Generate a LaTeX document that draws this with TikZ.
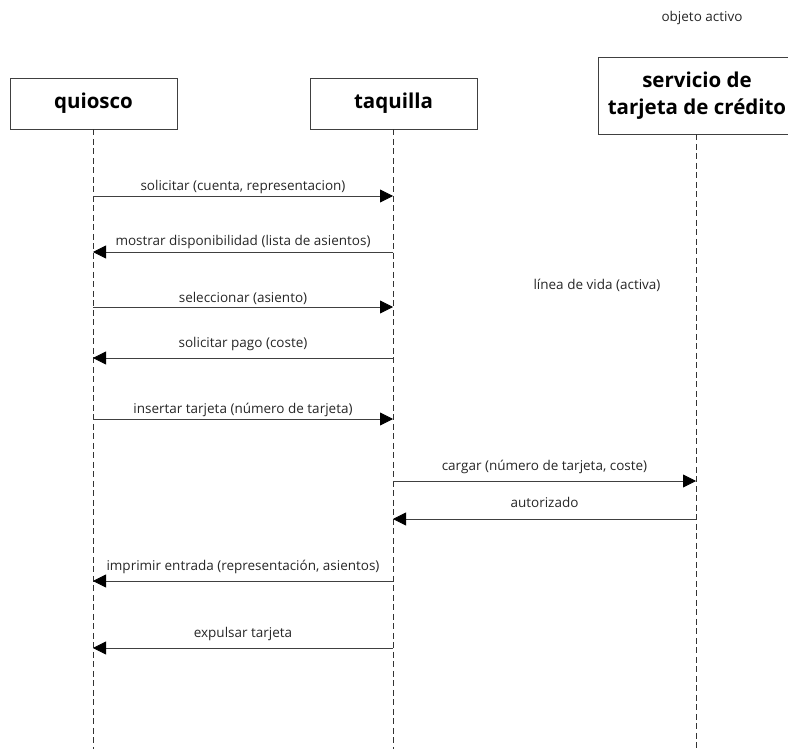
\documentclass[tikz,border=0pt]{standalone}
\usepackage{fontspec}
\setmainfont{Open Sans}
\usetikzlibrary{arrows.meta}
\begin{document}
\begin{tikzpicture}[x=1pt,y=-1pt,
  objbox/.style={draw=black!75,line width=0.8pt,fill=white,inner sep=0pt,font=\bfseries\fontsize{20.5}{27}\selectfont,align=center},
  lifeline/.style={draw=black!80,line width=0.7pt,dash pattern=on 6pt off 3.5pt},
  msg/.style={draw=black!75,line width=0.8pt,-{Triangle[length=13pt,width=13pt,color=black]}},
  lbl/.style={font=\fontsize{13.5}{16}\selectfont,text=black!85,inner sep=0pt,anchor=base}]
\useasboundingbox (0,0) rectangle (788,749);
% objects
\node[objbox,minimum width=167pt,minimum height=51pt] (q) at (93.5,103.5) {quiosco};
\node[objbox,minimum width=167pt,minimum height=51pt] (t) at (393.5,103.5) {taquilla};
\node[objbox,minimum width=198pt,minimum height=77pt] (s) at (697,95.5) {servicio de\\tarjeta de crédito};
\node[lbl] (oa) at (702,22) {objeto activo};
\node[lbl] (lv) at (597,289) {línea de vida (activa)};
% lifelines
\coordinate (qe) at (93,749);
\coordinate (te) at (393,749);
\coordinate (se) at (696,749);
\draw[lifeline] (q.south -| qe) -- (qe);
\draw[lifeline] (t.south -| te) -- (te);
\draw[lifeline] (s.south -| se) -- (se);
% message anchor points
\foreach \n/\y in {1/196,2/252,3/307,4/358,5/419,8/581,9/648}{
  \coordinate (q\n) at (93,\y);
  \coordinate (t\n) at (393,\y);
}
\foreach \n/\y in {6/481,7/519}{
  \coordinate (t\n) at (393,\y);
  \coordinate (s\n) at (696,\y);
}
% messages
\draw[msg] (q1) -- node[lbl,yshift=5pt] {solicitar (cuenta, representacion)} (t1);
\draw[msg] (t2) -- node[lbl,yshift=6pt] {mostrar disponibilidad (lista de asientos)} (q2);
\draw[msg] (q3) -- node[lbl,yshift=5pt] {seleccionar (asiento)} (t3);
\draw[msg] (t4) -- node[lbl,yshift=11pt] {solicitar pago (coste)} (q4);
\draw[msg] (q5) -- node[lbl,yshift=6pt] {insertar tarjeta (número de tarjeta)} (t5);
\draw[msg] (t6) -- node[lbl,yshift=11pt] {cargar (número de tarjeta, coste)} (s6);
\draw[msg] (s7) -- node[lbl,yshift=12pt] {autorizado} (t7);
\draw[msg] (t8) -- node[lbl,yshift=11pt] {imprimir entrada (representación, asientos)} (q8);
\draw[msg] (t9) -- node[lbl,yshift=11pt] {expulsar tarjeta} (q9);
\end{tikzpicture}
\end{document}
